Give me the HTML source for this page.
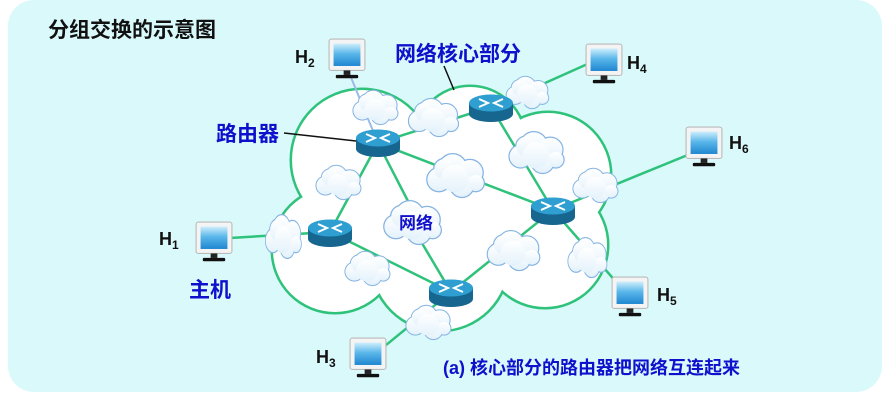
<!DOCTYPE html>
<html><head><meta charset="utf-8"><style>
html,body{margin:0;padding:0;background:#fff;}
svg{display:block;font-family:"Liberation Sans","Noto Sans CJK SC",sans-serif;}
</style></head><body>
<svg width="887" height="416" viewBox="0 0 887 416">
<defs>
<linearGradient id="cg" x1="0" y1="0" x2="0" y2="1"><stop offset="0" stop-color="#ffffff"/><stop offset="1" stop-color="#e4f2fb"/></linearGradient>
<linearGradient id="sg" x1="0" y1="0" x2="0" y2="1"><stop offset="0" stop-color="#cfeefc"/><stop offset="0.45" stop-color="#5bb8ea"/><stop offset="1" stop-color="#1f86d0"/></linearGradient>
<g id="cloud">
 <g fill="none" stroke="#86b4e2" stroke-width="2.2">
  <circle cx="-14" cy="4" r="10"/><circle cx="-2" cy="-6" r="12"/><circle cx="13" cy="-2" r="11"/><circle cx="6" cy="9" r="10"/><circle cx="-9" cy="-5" r="9"/><circle cx="18" cy="7" r="7"/>
 </g>
 <g fill="url(#cg)">
  <circle cx="-14" cy="4" r="10"/><circle cx="-2" cy="-6" r="12"/><circle cx="13" cy="-2" r="11"/><circle cx="6" cy="9" r="10"/><circle cx="-9" cy="-5" r="9"/><circle cx="18" cy="7" r="7"/><circle cx="0" cy="3" r="12"/>
 </g>
</g>
<g id="router">
 <path d="M-22,0 v11 a22,8 0 0 0 44,0 v-11z" fill="#16668f"/>
 <ellipse cx="0" cy="0" rx="22" ry="8.5" fill="#2e9fd0"/>
 <g stroke="#fff" stroke-width="2" fill="none">
  <path d="M-12,-4 L-3,0 L-12,4 M12,-4 L3,0 L12,4"/>
 </g>
</g>
<g id="mon">
 <rect x="-16" y="-16" width="32" height="28" rx="2" fill="#f4f4f4" stroke="#bbb" stroke-width="1"/>
 <rect x="-12" y="-12" width="24" height="20" fill="url(#sg)"/>
 <rect x="-3" y="12" width="6" height="4" fill="#222"/>
 <rect x="-10" y="16" width="20" height="3" rx="1" fill="#111"/>
</g>
</defs>
<rect x="8" y="0" width="874" height="392" rx="26" fill="#d9f9fb"/>
<text x="48" y="37" font-size="21" font-weight="bold" fill="#111">分组交换的示意图</text>

<g stroke="#2ec27a" stroke-width="5" fill="none">
 <circle cx="362" cy="160" r="70"/><circle cx="470" cy="142" r="55"/><circle cx="548" cy="175" r="62"/><circle cx="335" cy="250" r="62"/><circle cx="440" cy="262" r="68"/><circle cx="545" cy="245" r="62"/><circle cx="445" cy="205" r="90"/>
</g>
<g fill="#fff">
 <circle cx="362" cy="160" r="70"/><circle cx="470" cy="142" r="55"/><circle cx="548" cy="175" r="62"/><circle cx="335" cy="250" r="62"/><circle cx="440" cy="262" r="68"/><circle cx="545" cy="245" r="62"/><circle cx="445" cy="205" r="90"/>
</g>

<g stroke="#2ec27a" stroke-width="2.5" fill="none">
 <line x1="378" y1="143" x2="491" y2="107"/>
 <line x1="378" y1="143" x2="553" y2="210"/>
 <line x1="378" y1="143" x2="330" y2="232"/>
 <line x1="378" y1="143" x2="410" y2="205"/>
 <line x1="410" y1="223" x2="451" y2="292"/>
 <line x1="491" y1="107" x2="553" y2="210"/>
 <line x1="330" y1="232" x2="451" y2="292"/>
 <line x1="451" y1="292" x2="553" y2="210"/>
 <line x1="553" y1="210" x2="700" y2="150"/>
 <line x1="553" y1="210" x2="625" y2="292"/>
 <line x1="451" y1="292" x2="380" y2="350"/>
 <line x1="330" y1="232" x2="230" y2="238"/>
 <line x1="525" y1="92" x2="592" y2="62"/>
</g>
<line x1="350" y1="75" x2="378" y2="143" stroke="#9bbbe8" stroke-width="2"/>

<use href="#cloud" transform="translate(375,107) scale(0.9)"/>
<use href="#cloud" transform="translate(433,117) scale(1.0)"/>
<use href="#cloud" transform="translate(527,92) scale(0.85)"/>
<use href="#cloud" transform="translate(536,152) scale(1.1)"/>
<use href="#cloud" transform="translate(455,175) scale(1.15)"/>
<use href="#cloud" transform="translate(595,185) scale(0.9)"/>
<use href="#cloud" transform="translate(338,182) scale(0.9)"/>
<use href="#cloud" transform="translate(283,236) scale(0.72,1.15)"/>
<use href="#cloud" transform="translate(412,222) scale(1.15)"/>
<use href="#cloud" transform="translate(367,268) scale(0.9)"/>
<use href="#cloud" transform="translate(513,250) scale(1.05)"/>
<use href="#cloud" transform="translate(587,257) scale(0.78,1.05)"/>
<use href="#cloud" transform="translate(428,322) scale(0.9)"/>

<use href="#router" transform="translate(378,138)"/>
<use href="#router" transform="translate(491,103)"/>
<use href="#router" transform="translate(330,228)"/>
<use href="#router" transform="translate(553,206)"/>
<use href="#router" transform="translate(451,288)"/>

<use href="#mon" transform="translate(347,57) scale(1.12)"/>
<use href="#mon" transform="translate(604,62) scale(1.12)"/>
<use href="#mon" transform="translate(704,145) scale(1.12)"/>
<use href="#mon" transform="translate(214,240) scale(1.12)"/>
<use href="#mon" transform="translate(630,295) scale(1.12)"/>
<use href="#mon" transform="translate(368,356) scale(1.12)"/>
<g font-size="18" font-weight="bold" fill="#111">
 <text x="295" y="63">H<tspan font-size="12" dy="4">2</tspan></text>
 <text x="627" y="69">H<tspan font-size="12" dy="4">4</tspan></text>
 <text x="729" y="149">H<tspan font-size="12" dy="4">6</tspan></text>
 <text x="159" y="245">H<tspan font-size="12" dy="4">1</tspan></text>
 <text x="657" y="301">H<tspan font-size="12" dy="4">5</tspan></text>
 <text x="316" y="363">H<tspan font-size="12" dy="4">3</tspan></text>
</g>

<g stroke="#111" stroke-width="1.5">
 <line x1="444" y1="66" x2="454" y2="90"/>
 <line x1="284" y1="133" x2="356" y2="141"/>
</g>
<g fill="#1010cc" font-weight="bold">
 <text x="395" y="61" font-size="21">网络核心部分</text>
 <text x="216" y="141" font-size="21">路由器</text>
 <text x="189" y="297" font-size="21">主机</text>
 <text x="399" y="229" font-size="17">网络</text>
 <text x="443" y="374" font-size="18">(a) 核心部分的路由器把网络互连起来</text>
</g>
</svg>
</body></html>
